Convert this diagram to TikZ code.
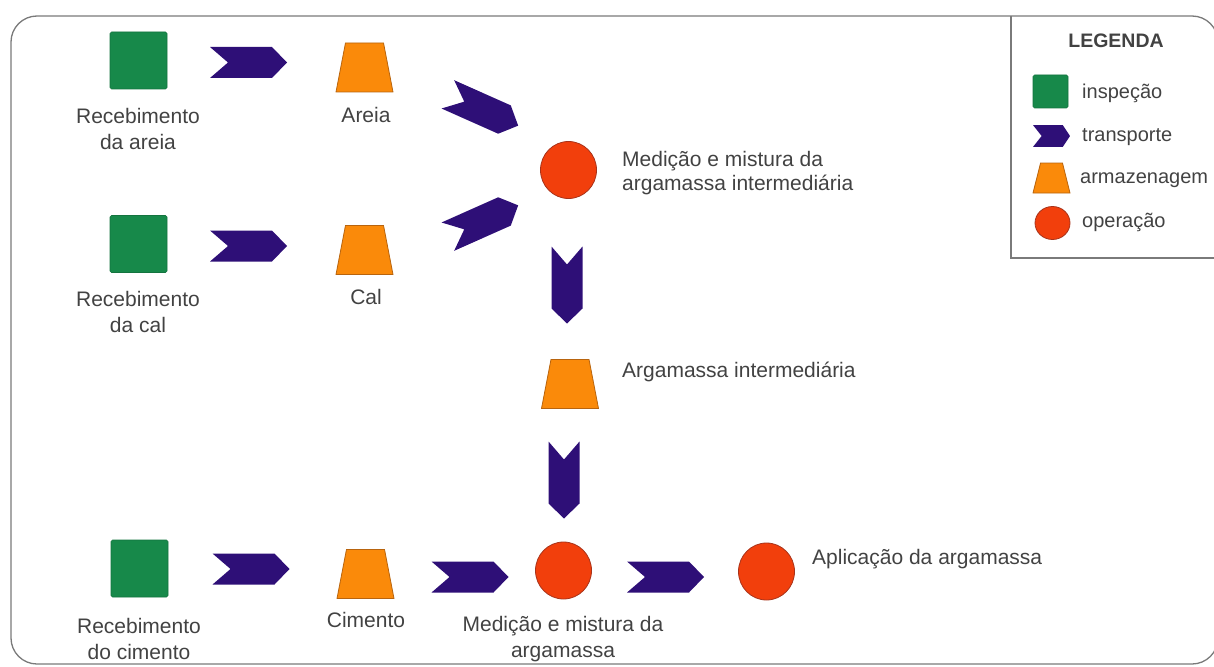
\documentclass[tikz,border=0pt]{standalone}
\usepackage{fontspec}
\setmainfont{Liberation Sans}
\usetikzlibrary{shapes.geometric}
\definecolor{insp}{HTML}{17894A}
\definecolor{trans}{HTML}{2E0F77}
\definecolor{arm}{HTML}{FA8A0A}
\definecolor{armd}{HTML}{B8640E}
\definecolor{oper}{HTML}{F23F0C}
\definecolor{operd}{HTML}{A8331A}
\definecolor{txt}{HTML}{424242}
\definecolor{frm}{HTML}{7A7A7A}
\begin{document}
\begin{tikzpicture}[x=1pt,y=-1pt,
  inspbox/.style={rectangle, fill=insp, draw=insp!85!black, line width=0.6pt, rounded corners=1.5pt, minimum width=57pt, minimum height=57pt, inner sep=0pt},
  armbox/.style={trapezium, trapezium stretches=true, trapezium left angle=76, trapezium right angle=76, fill=arm, draw=armd, line width=0.8pt, minimum width=57pt, minimum height=49pt, inner sep=1pt},
  opbox/.style={ellipse, fill=oper, draw=operd, line width=0.8pt, minimum width=56pt, minimum height=57pt, inner sep=0pt},
  lbl/.style={text=txt, font=\fontsize{21}{26}\selectfont, align=center, inner sep=0pt},
  side/.style={text=txt, font=\fontsize{21}{24}\selectfont, align=left, anchor=west, inner sep=0pt},
  leg/.style={text=txt, font=\fontsize{20}{22}\selectfont, anchor=west, inner sep=0pt},
  chev/.pic={\fill[trans] (-38.5,-15.5) -- (23.5,-15.5) -- (38.5,0) -- (23.5,15.5) -- (-38.5,15.5) -- (-20.5,0) -- cycle;}
]
\useasboundingbox (0,0) rectangle (1214,666);
% frame and legend box
\draw[frm, line width=1.3pt, rounded corners=26pt] (11,16) rectangle (1218,664);
\draw[frm, line width=1.3pt] (1011,16) -- (1011,258) -- (1218,258);

% row 1
\node[inspbox] (sq1) at (138.5,60.5) {};
\node[lbl] (l1) at (138,128.5) {Recebimento\\da areia};
\pic at (248.5,62.5) {chev};
\node[armbox] (tr1) at (364.5,67.5) {};
\node[lbl] (t1) at (366,115) {Areia};
\pic[rotate=-24] at (483,110) {chev};

% row 2
\node[inspbox] (sq2) at (138.5,244) {};
\node[lbl] (l2) at (138,311.5) {Recebimento\\da cal};
\pic at (248.5,246) {chev};
\node[armbox] (tr2) at (364.5,250) {};
\node[lbl] (t2) at (366,297) {Cal};
\pic[rotate=24] at (483,221) {chev};

% central column
\node[opbox] (op1) at (568.5,170) {};
\node[side] (s1) at (622,173) {Medição e mistura da\\argamassa intermediária};
\pic[rotate=-90] at (567,285) {chev};
\node[armbox] (tr4) at (570,384) {};
\node[side] (s2) at (622,372) {Argamassa intermediária};
\pic[rotate=-90] at (564,480) {chev};

% row 3
\node[inspbox] (sq3) at (139.5,568.5) {};
\node[lbl] (l3) at (139,639) {Recebimento\\do cimento};
\pic at (251,569) {chev};
\node[armbox] (tr3) at (365.5,574) {};
\node[lbl] (t3) at (366,620) {Cimento};
\pic at (470,577) {chev};
\node[opbox] (op2) at (563.5,570.5) {};
\node[lbl] (l4) at (563,639) {Medição e mistura da\\argamassa};
\pic at (665.5,577) {chev};
\node[opbox] (op3) at (766.5,571.5) {};
\node[side] (s3) at (812,559) {Aplicação da argamassa};

% legend
\node[text=txt, font=\fontsize{19.5}{22}\selectfont\bfseries, inner sep=0pt] (lg) at (1116,41) {LEGENDA};
\node[inspbox, minimum width=35pt, minimum height=33pt] (lgi) at (1050.5,91.5) {};
\node[leg] at (1082,93) {inspeção};
\pic[xscale=0.48, yscale=0.7] at (1051.5,136) {chev};
\node[leg] at (1082,137) {transporte};
\node[armbox, minimum width=37pt, minimum height=30pt, trapezium left angle=71, trapezium right angle=71] (lga) at (1051.5,178) {};
\node[leg] at (1080,180) {armazenagem};
\node[opbox, minimum width=35pt, minimum height=33pt] (lgo) at (1052.5,223) {};
\node[leg] at (1082,222) {operação};
\end{tikzpicture}
\end{document}
